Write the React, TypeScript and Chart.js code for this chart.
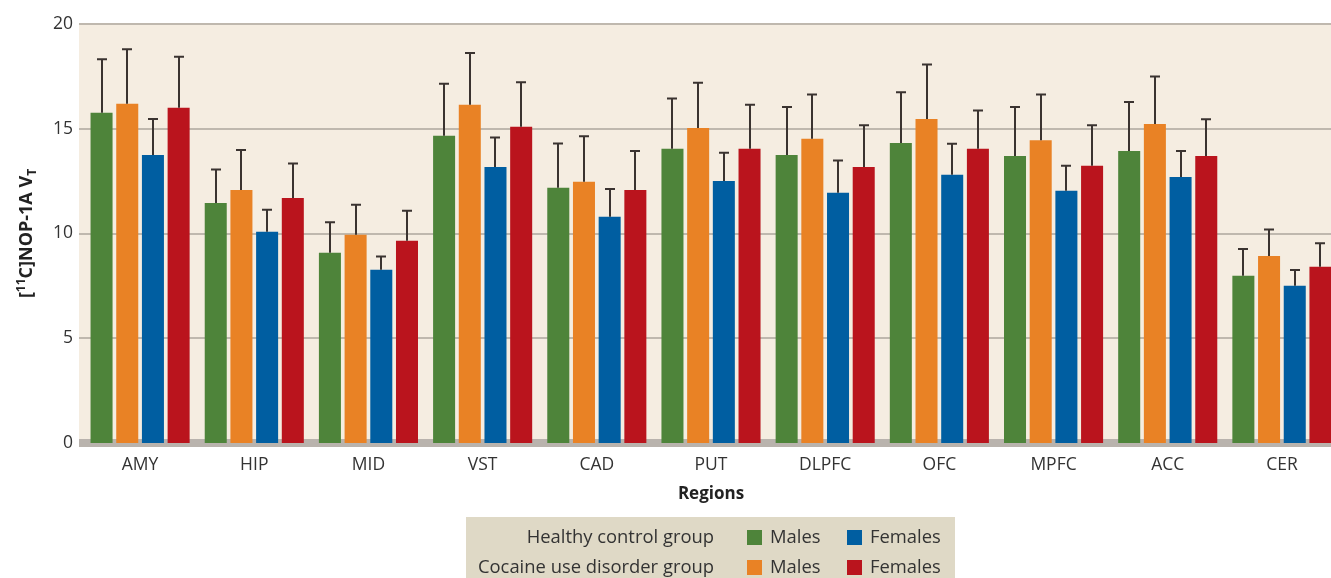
import React, { useEffect, useRef } from 'react';
import { Chart, registerables } from 'chart.js';

Chart.register(...registerables);

const regions = ['AMY', 'HIP', 'MID', 'VST', 'CAD', 'PUT', 'DLPFC', 'OFC', 'MPFC', 'ACC', 'CER'];

const hcMales = [15.76, 11.46, 9.08, 14.66, 12.18, 14.04, 13.75, 14.32, 13.7, 13.94, 7.98];
const hcMalesSD = [2.56, 1.59, 1.46, 2.49, 2.11, 2.4, 2.29, 2.42, 2.34, 2.34, 1.28];
const cudMales = [16.19, 12.08, 9.94, 16.14, 12.47, 15.04, 14.52, 15.47, 14.45, 15.23, 8.93];
const cudMalesSD = [2.6, 1.91, 1.43, 2.48, 2.17, 2.16, 2.11, 2.6, 2.18, 2.27, 1.26];
const hcFemales = [13.75, 10.08, 8.27, 13.18, 10.8, 12.51, 11.94, 12.8, 12.04, 12.7, 7.51];
const hcFemalesSD = [1.71, 1.05, 0.63, 1.4, 1.32, 1.35, 1.54, 1.48, 1.19, 1.24, 0.75];
const cudFemales = [16.0, 11.7, 9.65, 15.09, 12.08, 14.04, 13.18, 14.04, 13.23, 13.7, 8.41];
const cudFemalesSD = [2.44, 1.64, 1.43, 2.13, 1.86, 2.11, 1.99, 1.83, 1.94, 1.75, 1.13];

const yTickValues = [0, 5, 10, 15, 20];
const groupLabels = ['Healthy control group', 'Cocaine use disorder group'];
const sexLabels = ['Males', 'Females'];

const GREEN = '#4e843a';
const ORANGE = '#e98225';
const BLUE = '#005ea1';
const RED = '#ba141d';
const FONT = '"Open Sans", sans-serif';

// legend colours: [group][sex]
const legendColors = [
  [GREEN, BLUE],
  [ORANGE, RED],
];

const series = [
  { label: 'Healthy control group Males', data: hcMales, sd: hcMalesSD, color: GREEN },
  { label: 'Cocaine use disorder group Males', data: cudMales, sd: cudMalesSD, color: ORANGE },
  { label: 'Healthy control group Females', data: hcFemales, sd: hcFemalesSD, color: BLUE },
  { label: 'Cocaine use disorder group Females', data: cudFemales, sd: cudFemalesSD, color: RED },
];

const backgroundPlugin = {
  id: 'bgPlugin',
  beforeDatasetsDraw(chart: any) {
    const { ctx, chartArea } = chart;
    const y = chart.scales.y;
    const left = chartArea.left - 4;
    const right = chartArea.right;
    const zeroY = y.getPixelForValue(0);
    ctx.save();
    ctx.fillStyle = '#f5ede1';
    ctx.fillRect(left, chartArea.top, right - left, zeroY - chartArea.top);
    ctx.strokeStyle = '#bfb8ae';
    ctx.lineWidth = 2;
    yTickValues.forEach((v) => {
      if (v === 0) return;
      const py = Math.round(y.getPixelForValue(v));
      ctx.beginPath();
      ctx.moveTo(left, py);
      ctx.lineTo(right, py);
      ctx.stroke();
    });
    ctx.fillStyle = '#b9b3ad';
    ctx.fillRect(left, zeroY - 4, right - left, 8);
    ctx.restore();
  },
};

const errorBarPlugin = {
  id: 'errorBars',
  afterDatasetsDraw(chart: any) {
    const { ctx } = chart;
    const y = chart.scales.y;
    ctx.save();
    ctx.strokeStyle = '#3a3330';
    ctx.lineWidth = 2;
    chart.data.datasets.forEach((ds: any, i: number) => {
      const meta = chart.getDatasetMeta(i);
      meta.data.forEach((el: any, j: number) => {
        const top = y.getPixelForValue(ds.data[j] + ds.sd[j]);
        const x = Math.round(el.x);
        ctx.beginPath();
        ctx.moveTo(x, el.y);
        ctx.lineTo(x, top);
        ctx.moveTo(x - 5, top);
        ctx.lineTo(x + 5, top);
        ctx.stroke();
      });
    });
    ctx.restore();
  },
};

const annotationsPlugin = {
  id: 'annotations',
  afterDraw(chart: any) {
    const { ctx, chartArea } = chart;
    ctx.save();
    // Y axis title with super/subscript
    const cy = (chartArea.top + chartArea.bottom) / 2;
    const big = 'bold 18px ' + FONT;
    const small = 'bold 12px ' + FONT;
    const parts = [
      { t: '[', f: big, dy: 0 },
      { t: '11', f: small, dy: -7 },
      { t: 'C]NOP-1A V', f: big, dy: 0 },
      { t: 'T', f: small, dy: 4 },
    ];
    let total = 0;
    parts.forEach((p) => {
      ctx.font = p.f;
      total += ctx.measureText(p.t).width;
    });
    ctx.translate(32, cy);
    ctx.rotate(-Math.PI / 2);
    ctx.fillStyle = '#222';
    ctx.textBaseline = 'alphabetic';
    ctx.textAlign = 'left';
    let x = -total / 2;
    parts.forEach((p) => {
      ctx.font = p.f;
      ctx.fillText(p.t, x, p.dy);
      x += ctx.measureText(p.t).width;
    });
    ctx.restore();

    // Legend box
    ctx.save();
    ctx.fillStyle = '#dfd9c6';
    ctx.fillRect(466, 517, 489, 70);
    ctx.font = '18.4px ' + FONT;
    ctx.fillStyle = '#333';
    ctx.textBaseline = 'middle';
    const rowY = [538, 568];
    groupLabels.forEach((g, gi) => {
      ctx.textAlign = 'right';
      ctx.fillStyle = '#333';
      ctx.fillText(g, 714, rowY[gi]);
      sexLabels.forEach((s, si) => {
        const sx = si === 0 ? 747 : 847;
        ctx.fillStyle = legendColors[gi][si];
        ctx.fillRect(sx, rowY[gi] - 8, 15, 15);
        ctx.fillStyle = '#333';
        ctx.textAlign = 'left';
        ctx.fillText(s, sx + 23, rowY[gi]);
      });
    });
    ctx.restore();
  },
};

export default function App() {
  const ref = useRef<HTMLCanvasElement | null>(null);

  useEffect(() => {
    document.body.style.margin = '0';
    document.body.style.overflow = 'hidden';
    if (!ref.current) return;
    const chart = new Chart(ref.current, {
      type: 'bar',
      data: {
        labels: regions,
        datasets: series.map((s) => ({
          label: s.label,
          data: s.data,
          sd: s.sd,
          backgroundColor: s.color,
          borderWidth: 0,
          categoryPercentage: 0.9,
          barPercentage: 0.857,
        })) as any,
      },
      options: {
        animation: false,
        responsive: false,
        maintainAspectRatio: false,
        devicePixelRatio: 1,
        layout: { padding: { top: 24, right: 1, bottom: 65, left: 0 } },
        plugins: {
          legend: { display: false },
          tooltip: { enabled: false },
          title: { display: false },
        },
        scales: {
          x: {
            type: 'category',
            grid: { display: false, drawTicks: false },
            border: { display: false },
            ticks: {
              color: '#333',
              font: { family: FONT, size: 17.5 },
              padding: 12,
              maxRotation: 0,
              autoSkip: false,
            },
            title: {
              display: true,
              text: 'Regions',
              color: '#222',
              font: { family: FONT, size: 17, weight: 'bold' },
              padding: { top: 0, bottom: 9 },
            },
            afterFit: (s: any) => {
              s.height = 70;
            },
          },
          y: {
            min: 0,
            max: 20,
            grid: { display: false, drawTicks: false },
            border: { display: false },
            ticks: {
              stepSize: 5,
              color: '#333',
              font: { family: FONT, size: 17.5 },
              padding: 10,
            },
            afterFit: (s: any) => {
              s.width = 83;
            },
          },
        },
      } as any,
      plugins: [backgroundPlugin, errorBarPlugin, annotationsPlugin],
    });
    return () => chart.destroy();
  }, []);

  return (
    <div style={{ width: 1331, height: 578, overflow: 'hidden', position: 'relative', background: '#fff' }}>
      <canvas ref={ref} width={1340} height={578} style={{ display: 'block', width: 1340, height: 578 }} />
    </div>
  );
}
